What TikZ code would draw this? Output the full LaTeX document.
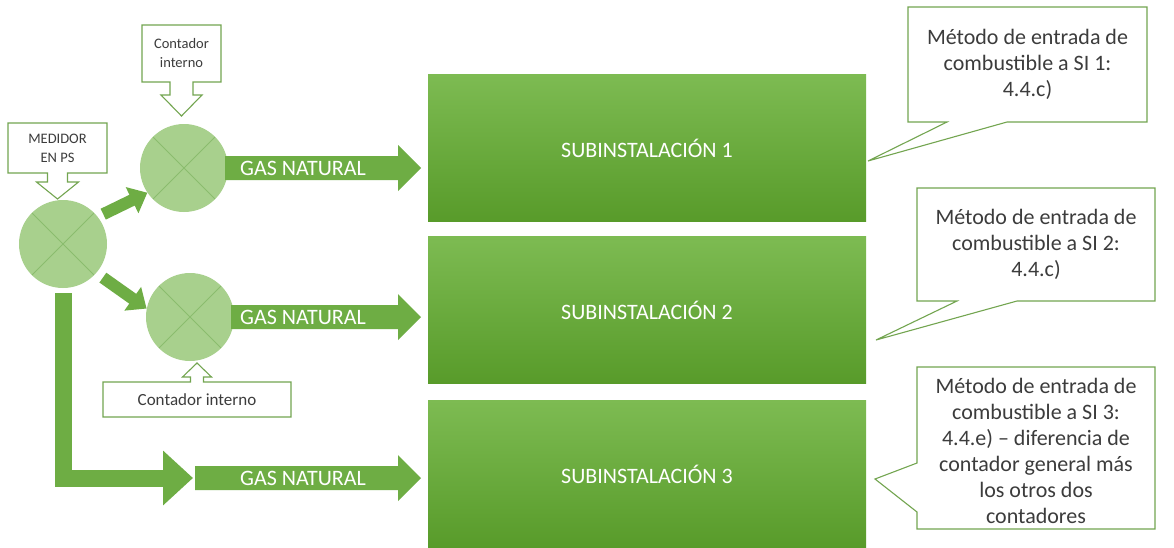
\documentclass[tikz,border=0pt]{standalone}
\usepackage{fontspec}
\setmainfont{Carlito}
\usetikzlibrary{calc}
\usetikzlibrary{arrows.meta}

\definecolor{boxtop}{RGB}{125,187,82}
\definecolor{boxbot}{RGB}{88,155,42}
\definecolor{gasgreen}{RGB}{110,173,68}
\definecolor{meterfill}{RGB}{168,208,141}
\definecolor{meterline}{RGB}{138,188,110}
\definecolor{callgreen}{RGB}{115,165,80}
\definecolor{txtgray}{RGB}{60,60,60}

\begin{document}
\begin{tikzpicture}[x=1pt,y=-1pt,
    subbox/.style={minimum width=438pt,minimum height=147pt,inner sep=0pt,outer sep=0pt,
        top color=boxtop,bottom color=boxbot,text=white,font=\fontsize{22}{26}\selectfont},
    meter/.style={circle,minimum size=88pt,inner sep=0pt,fill=meterfill,
        path picture={\draw[meterline,line width=0.8pt]
            (path picture bounding box.north west) -- (path picture bounding box.south east)
            (path picture bounding box.north east) -- (path picture bounding box.south west);}},
    gastext/.style={text=white,font=\fontsize{22}{26}\selectfont,inner sep=0pt},
    fatarrow/.style={gasgreen,line width=12pt,-{Triangle[length=17pt,width=28pt]}},
    elbowarrow/.style={gasgreen,line width=17pt,line join=miter,-{Triangle[length=30pt,width=53pt]}},
    calloutline/.style={callgreen,line width=1.1pt,fill=white},
    smallnote/.style={inner sep=0pt,outer sep=0pt,text=txtgray,align=center},
    bignote/.style={inner sep=0pt,outer sep=0pt,text=txtgray,align=center,
        font=\fontsize{22}{26}\selectfont}]

    % white background, fixes the size
    \useasboundingbox[fill=white] (0,0) rectangle (1174,547);

    % subinstallations
    \foreach \i/\y in {1/148,2/310,3/474}
        \node[subbox] (s\i) at (647,\y) {SUBINSTALACIÓN \i};

    % meters
    \node[meter] (m) at (63,244) {};
    \node[meter] (c2) at (184,168) {};
    \node[meter] (c3) at (190,317) {};

    \coordinate (g3) at (198,478);

    % gas arrows into the subinstallations
    \foreach \a/\b [count=\i] in {c2.east/s1,c3.east/s2,g3/s3}
        \fill[gasgreen] let \p1=(\a), \p2=(\b.west) in
            (\x1-3,\y1+12) -- (\x2-30,\y1+12) -- (\x2-30,\y1+23) -- (\x2-7,\y1)
            -- (\x2-30,\y1-23) -- (\x2-30,\y1-12) -- (\x1-3,\y1-12) -- cycle
            node[gastext] (gas\i) at (303pt,\y1) {GAS NATURAL};

    % arrows between the meters
    \draw[fatarrow,shorten <=6pt] (m.38) -- (c2.214);
    \draw[fatarrow,shorten <=8pt] (m.-41) -- (c3.169);
    \draw[elbowarrow,shorten <=5pt,shorten >=5pt] (m.south) |- (g3);

    % arrow callouts at the meters
    \node[smallnote,minimum width=99pt,minimum height=50pt] (med) at (57.5,148) {};
    \draw[calloutline] (med.north west) -- (med.north east) -- (med.south east)
        -- ($(med.south)+(10,0)$) -- ($(med.south)+(10,9)$) -- ($(med.south)+(21,9)$)
        -- ($(med.south)+(0,26)$) -- ($(med.south)+(-21,9)$) -- ($(med.south)+(-10,9)$)
        -- ($(med.south)+(-10,0)$) -- (med.south west) -- cycle;
    \node[smallnote,font=\fontsize{14.5}{19}\selectfont] (medt) at (med) {MEDIDOR\\EN PS};

    \node[smallnote,minimum width=79pt,minimum height=57pt] (ci1) at (181.5,53.5) {};
    \draw[calloutline] (ci1.north west) -- (ci1.north east) -- (ci1.south east)
        -- ($(ci1.south)+(11.5,0)$) -- ($(ci1.south)+(11.5,13)$) -- ($(ci1.south)+(20.5,13)$)
        -- ($(ci1.south)+(0,34)$) -- ($(ci1.south)+(-20.5,13)$) -- ($(ci1.south)+(-11.5,13)$)
        -- ($(ci1.south)+(-11.5,0)$) -- (ci1.south west) -- cycle;
    \node[smallnote,font=\fontsize{14.5}{19}\selectfont] (ci1t) at (ci1) {Contador\\interno};

    \node[smallnote,minimum width=188pt,minimum height=35pt] (ci2) at (197,399.5) {};
    \draw[calloutline] (ci2.south west) -- (ci2.south east) -- (ci2.north east)
        -- ($(ci2.north)+(6.5,0)$) -- ($(ci2.north)+(6.5,-5)$) -- ($(ci2.north)+(14.5,-5)$)
        -- ($(ci2.north)+(0,-19)$) -- ($(ci2.north)+(-14.5,-5)$) -- ($(ci2.north)+(-6.5,-5)$)
        -- ($(ci2.north)+(-6.5,0)$) -- (ci2.north west) -- cycle;
    \node[smallnote,font=\fontsize{17}{20}\selectfont] (ci2t) at (ci2) {Contador interno};

    % method callouts
    \coordinate (p1) at (868,161);
    \coordinate (p2) at (876,340);
    \coordinate (p3) at (875,479);

    \node[bignote,minimum width=239pt,minimum height=115pt] (q1) at (1027.5,64.5) {};
    \draw[calloutline] (q1.north west) -- (q1.north east) -- (q1.south east)
        -- ($(q1.south west)+(99,0)$) -- (p1) -- ($(q1.south west)+(39,0)$)
        -- (q1.south west) -- cycle;
    \node[bignote] (q1t) at (q1) {Método de entrada de\\combustible a SI 1:\\4.4.c)};

    \node[bignote,minimum width=238pt,minimum height=113pt] (q2) at (1036,244.5) {};
    \draw[calloutline] (q2.north west) -- (q2.north east) -- (q2.south east)
        -- ($(q2.south west)+(100,0)$) -- (p2) -- ($(q2.south west)+(40,0)$)
        -- (q2.south west) -- cycle;
    \node[bignote] (q2t) at (q2) {Método de entrada de\\combustible a SI 2:\\4.4.c)};

    \node[bignote,minimum width=238pt,minimum height=162pt] (q3) at (1036,448) {};
    \draw[calloutline] (q3.north west) -- (q3.north east) -- (q3.south east)
        -- (q3.south west) -- ($(q3.north west)+(0,145)$) -- (p3)
        -- ($(q3.north west)+(0,96)$) -- cycle;
    \node[bignote] (q3t) at ($(q3)+(0,3)$) {Método de entrada de\\combustible a SI 3:\\4.4.e) – diferencia de\\contador general más\\los otros dos\\contadores};

\end{tikzpicture}
\end{document}
